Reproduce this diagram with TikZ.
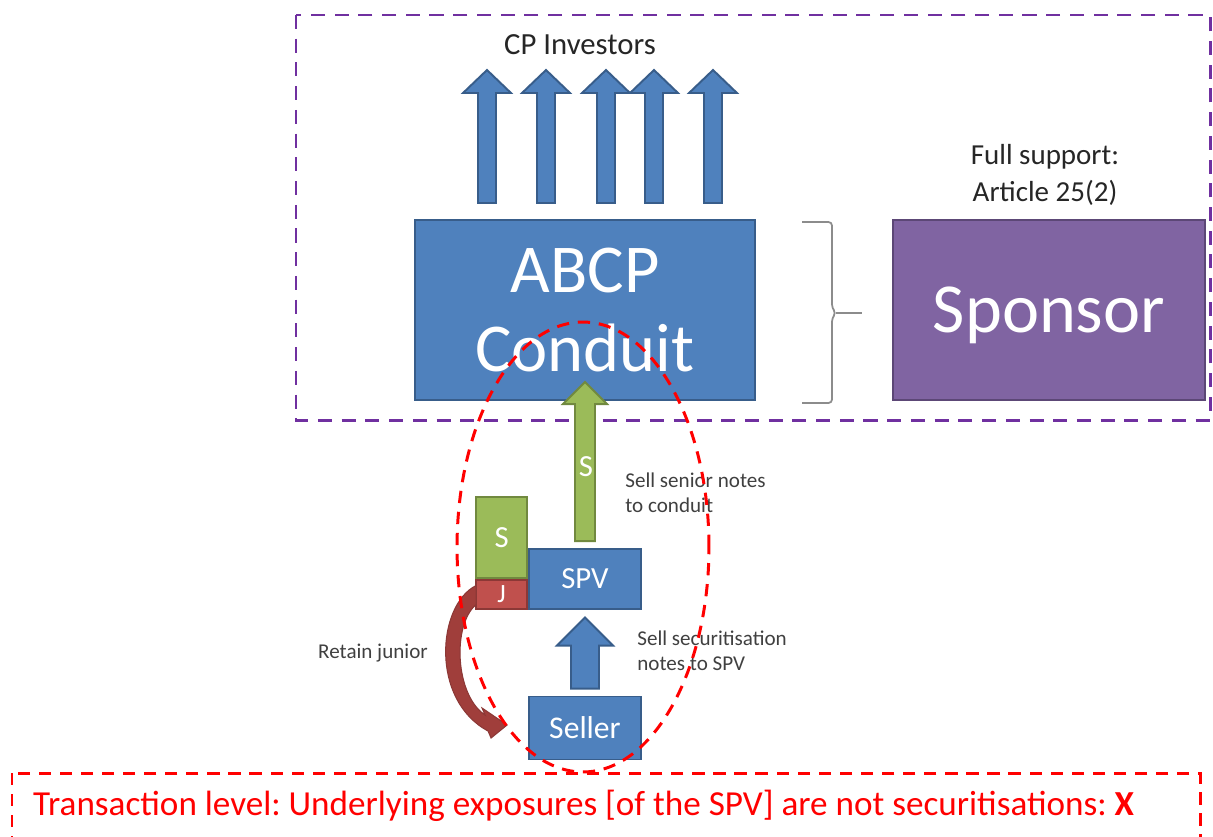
\documentclass[tikz,border=0pt]{standalone}
\usepackage{fontspec}
\setmainfont{Carlito}
\usetikzlibrary{positioning,calc,arrows.meta}

\begin{document}
\begin{tikzpicture}[x=0.02cm,y=-0.02cm,
    box/.style={draw, line width=1.1pt, text=white, inner sep=0pt},
    bluebox/.style={box, fill=myblue, draw=myblueline},
    greenbox/.style={box, fill=mygreen, draw=mygreenline},
    redbox/.style={box, fill=myred, draw=myredline},
    purplebox/.style={box, fill=mypurple, draw=mypurpleline},
    upblock/.style={line width=1.1pt, fill=myblue, draw=myblueline},
    greenblock/.style={line width=1.1pt, fill=mygreen, draw=mygreenline},
    smalltext/.style={text=black!75, font=\fontsize{12}{14}\selectfont, align=left, inner sep=0pt},
    reddash/.style={draw=red, line width=1.7pt, dash pattern=on 7pt off 5pt}
]

\definecolor{myblue}{RGB}{79,129,189}
\definecolor{myblueline}{RGB}{56,93,138}
\definecolor{mygreen}{RGB}{155,187,89}
\definecolor{mygreenline}{RGB}{113,137,63}
\definecolor{myred}{RGB}{192,80,77}
\definecolor{myredline}{RGB}{140,56,54}
\definecolor{mypurple}{RGB}{128,100,162}
\definecolor{mypurpleline}{RGB}{92,71,118}
\definecolor{myframe}{RGB}{112,48,160}
\definecolor{myarrow}{RGB}{160,62,59}

    \useasboundingbox (0,0) rectangle (1213,836);
    \frenchspacing

    %Rahmen
    \draw[myframe, line width=1.7pt, dash pattern=on 8pt off 5.5pt] (296,15) rectangle (1210,420);

    %Boxen oben
    \node[bluebox, minimum width=6.8cm, minimum height=3.6cm, align=center,
          font=\fontsize{39}{45}\selectfont] (conduit) at (585,310) {ABCP\\Conduit};
    \node[purplebox, minimum width=6.24cm, minimum height=3.6cm, text depth=0pt,
          font=\fontsize{40}{44}\selectfont] (sponsor) at (1049,310) {Sponsor};
    \node[font=\fontsize{16.5}{21}\selectfont, align=center, text=black!85] (support) at (1045,175) {Full support:\\Article 25(2)};

    %Klammer
    \draw[black!45, line width=1pt, rounded corners=2pt]
        (802,222) -- (832,222) -- (832,308) -- (836,313) -- (832,318) -- (832,403) -- (802,403);
    \draw[black!45, line width=1pt] (836,313) -- (862,313);

    %CP Investoren
    \node[font=\fontsize{17.5}{20}\selectfont, text=black!85] (cp) at (580,45) {CP Investors};
    \foreach \x in {487,546,606,654,713}
        \draw[upblock] (\x,203) ++(-9,0) -- ++(0,-110) -- ++(-15,0) -- ++(24,-23) -- ++(24,23) -- ++(-15,0) -- ++(0,110) -- cycle;

    %SPV und Seller
    \node[bluebox, minimum width=2.24cm, minimum height=1.2cm, font=\fontsize{17.5}{20}\selectfont] (spv) at (585,579) {SPV};
    \node[bluebox, minimum width=2.24cm, minimum height=1.26cm, font=\fontsize{18}{20}\selectfont] (seller) at (585,728) {Seller};
    \node[redbox, minimum width=1.02cm, minimum height=0.58cm, anchor=south east, font=\fontsize{15}{18}\selectfont] (j) at (spv.south west) {J};
    \node[greenbox, minimum width=1.02cm, minimum height=1.62cm, anchor=south, font=\fontsize{17.5}{20}\selectfont] (s) at (j.north) {S};

    %Pfeile
    \draw[greenblock] (spv.north) ++(-10,-7) -- ++(0,-137) -- ++(-12,0) -- ++(22,-22) -- ++(22,22) -- ++(-12,0) -- ++(0,137) -- cycle;
    \node[text=white, font=\fontsize{17.5}{20}\selectfont] (sarrow) at (586,467) {S};
    \draw[upblock] (seller.north) ++(-14,-7) -- ++(0,-43) -- ++(-14,0) -- ++(28,-28) -- ++(28,28) -- ++(-14,0) -- ++(0,43) -- cycle;
    \coordinate (tip) at ($(seller.west)+(-21,-3)$);
    \draw[fill=myarrow, draw=myredline, line width=0.6pt]
        ($(j.west)+(1,-9)$) .. controls (437,605) and (430,700) .. ($(tip)+(-19,6)$)
        -- ($(tip)+(-16,13)$) -- (tip) -- ($(tip)+(-25,-17)$) -- ($(tip)+(-22,-10)$)
        .. controls (455,695) and (452,625) .. ($(j.west)+(1,10)$) -- cycle;

    %Texte
    \node[smalltext, anchor=west] (senior) at (625,493) {Sell senior notes\\to conduit};
    \node[smalltext, anchor=west] (secur) at (637,651) {Sell securitisation\\notes to SPV};
    \node[smalltext] (retain) at (373,653) {Retain junior};

    %Ellipse
    \draw[reddash] (583,547) ellipse [x radius=2.52cm, y radius=4.5cm];

    %Unten
    \begin{scope}
        \clip (0,0) rectangle (1213,836);
        \draw[reddash] (12,773) rectangle (1200,880);
    \end{scope}
    \node[anchor=west, text=red, font=\fontsize{20}{22}\selectfont] (transaction) at (27,806)
        {Transaction level: Underlying exposures [of the SPV] are not securitisations: \textbf{X}};

\end{tikzpicture}
\end{document}
